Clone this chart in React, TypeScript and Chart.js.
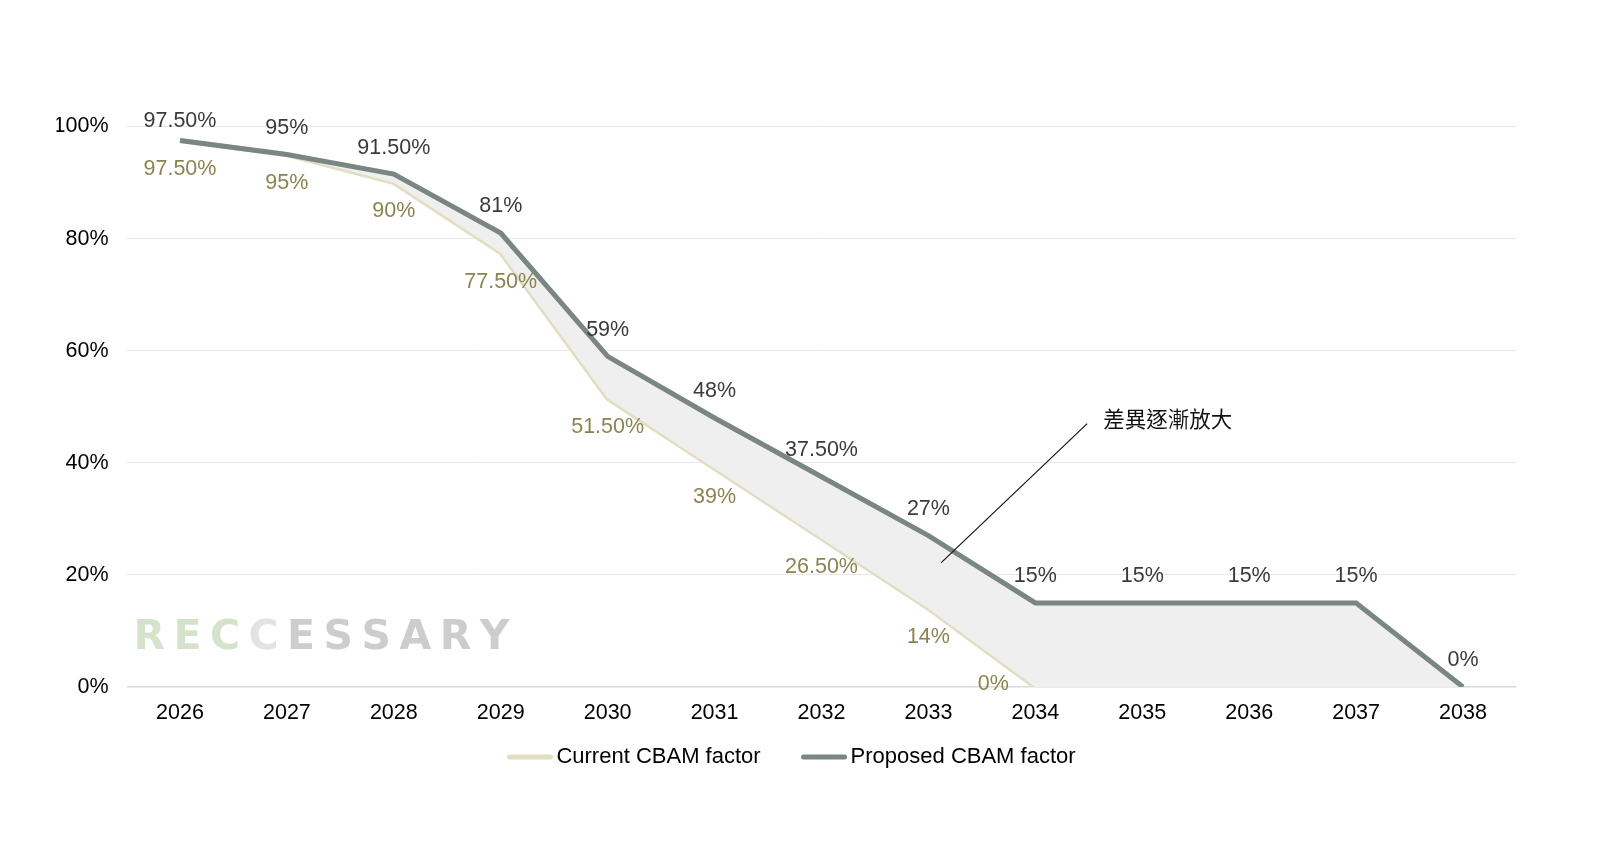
import { useEffect, useRef } from 'react';
import { Chart, registerables } from 'chart.js';

Chart.register(...registerables);

// ---------- data ----------
const years = ['2026', '2027', '2028', '2029', '2030', '2031', '2032', '2033', '2034', '2035', '2036', '2037', '2038'];
const currentFactor: (number | null)[] = [97.5, 95, 90, 77.5, 51.5, 39, 26.5, 14, 0, null, null, null, null];
const proposedFactor: number[] = [97.5, 95, 91.5, 81, 59, 48, 37.5, 27, 15, 15, 15, 15, 0];
const seriesNames = ['Current CBAM factor', 'Proposed CBAM factor'];
const annotationText = '差異逐漸放大';
const watermarkLetters = ['R', 'E', 'C', 'C', 'E', 'S', 'S', 'A', 'R', 'Y'];

// baseline for the shaded gap (current factor, then 0 once it reaches zero)
const fillBaseline = currentFactor.map((v) => (v === null ? 0 : v));

// ---------- styles ----------
const FONT = '"Liberation Sans", Arial, Helvetica, sans-serif';
const CURRENT_COLOR = '#e2dec4';
const PROPOSED_COLOR = '#7a8681';
const CURRENT_LABEL = '#8a8450';
const PROPOSED_LABEL = '#3a3a3a';
const GAP_FILL = '#efefef';

const fmt = (v: number) => (Number.isInteger(v) ? `${v}%` : `${v.toFixed(2)}%`);

const labelsPlugin = {
  id: 'pointLabels',
  afterDatasetsDraw(chart: any) {
    const ctx = chart.ctx;
    const top = chart.chartArea.top;
    ctx.save();
    ctx.font = `21.5px ${FONT}`;
    ctx.textBaseline = 'middle';
    ctx.textAlign = 'center';
    const m0 = chart.getDatasetMeta(0);
    m0.data.forEach((pt: any, i: number) => {
      const v = currentFactor[i];
      if (v === null || v === undefined) return;
      ctx.fillStyle = CURRENT_LABEL;
      if (v === 0) {
        ctx.fillText(fmt(v), pt.x - 42, pt.y - 3);
      } else {
        ctx.fillText(fmt(v), pt.x, pt.y + 29);
      }
    });
    const m1 = chart.getDatasetMeta(1);
    m1.data.forEach((pt: any, i: number) => {
      const v = proposedFactor[i];
      ctx.fillStyle = PROPOSED_LABEL;
      const y = Math.max(pt.y - 26.5, top - 5);
      ctx.fillText(fmt(v), pt.x, y);
    });
    ctx.restore();
  },
};

const annotationPlugin = {
  id: 'gapAnnotation',
  afterDraw(chart: any) {
    const { ctx, scales } = chart;
    const xs = scales.x;
    const ys = scales.y;
    ctx.save();
    ctx.strokeStyle = '#111';
    ctx.lineWidth = 1.2;
    ctx.beginPath();
    ctx.moveTo(xs.getPixelForValue(8.485), ys.getPixelForValue(47.0));
    ctx.lineTo(xs.getPixelForValue(7.12), ys.getPixelForValue(22.2));
    ctx.stroke();
    ctx.fillStyle = '#111';
    ctx.font = `21.5px "Noto Sans CJK TC", "Noto Sans CJK SC", ${FONT}`;
    ctx.textAlign = 'left';
    ctx.textBaseline = 'middle';
    ctx.fillText(annotationText, xs.getPixelForValue(8.634), ys.getPixelForValue(47.9));
    ctx.restore();
  },
};

const watermarkPlugin = {
  id: 'watermark',
  afterDraw(chart: any) {
    const ctx = chart.ctx;
    const colors = ['#d6e3cb', '#d6e3cb', '#d6e3cb', '#e3e3e3', '#cdcdcd', '#cdcdcd', '#cdcdcd', '#cdcdcd', '#cdcdcd', '#cdcdcd'];
    ctx.save();
    ctx.font = `bold 41px "DejaVu Sans", ${FONT}`;
    ctx.textBaseline = 'alphabetic';
    ctx.textAlign = 'left';
    const startX = chart.chartArea.left + 7;
    const totalW = 376;
    const widths = watermarkLetters.map((ch) => ctx.measureText(ch).width);
    const sum = widths.reduce((a, b) => a + b, 0);
    const spacing = (totalW - sum) / (watermarkLetters.length - 1);
    let x = startX;
    const y = chart.chartArea.bottom - 38;
    watermarkLetters.forEach((ch, i) => {
      ctx.fillStyle = colors[i];
      ctx.fillText(ch, x, y);
      x += widths[i] + spacing;
    });
    ctx.restore();
  },
};

const legendPlugin = {
  id: 'customLegend',
  afterDraw(chart: any) {
    const ctx = chart.ctx;
    const colors = [CURRENT_COLOR, PROPOSED_COLOR];
    ctx.save();
    ctx.font = `22px ${FONT}`;
    ctx.textBaseline = 'middle';
    ctx.textAlign = 'left';
    const boxW = 45;
    const boxGap = 4;
    const itemGap = 41;
    const widths = seriesNames.map((n) => boxW + boxGap + ctx.measureText(n).width);
    const total = widths.reduce((a, b) => a + b, 0) + itemGap * (seriesNames.length - 1);
    let x = 791.5 - total / 2;
    const cy = chart.chartArea.bottom + 70;
    seriesNames.forEach((name, i) => {
      ctx.strokeStyle = colors[i];
      ctx.lineWidth = 5;
      ctx.lineCap = 'round';
      ctx.beginPath();
      ctx.moveTo(x + 2, cy);
      ctx.lineTo(x + boxW - 2, cy);
      ctx.stroke();
      ctx.fillStyle = '#000';
      ctx.fillText(name, x + boxW + boxGap, cy);
      x += widths[i] + itemGap;
    });
    ctx.restore();
  },
};

export default function App() {
  const canvasRef = useRef<HTMLCanvasElement | null>(null);

  useEffect(() => {
    document.body.style.margin = '0';
    const canvas = canvasRef.current;
    if (!canvas) return;
    const chart = new Chart(canvas, {
      type: 'line',
      data: {
        labels: years,
        datasets: [
          {
            label: seriesNames[0],
            data: currentFactor,
            borderColor: CURRENT_COLOR,
            backgroundColor: CURRENT_COLOR,
            borderWidth: 5,
            pointRadius: 0,
            pointHoverRadius: 0,
            tension: 0,
            fill: false,
            order: 1,
          },
          {
            label: seriesNames[1],
            data: proposedFactor,
            borderColor: PROPOSED_COLOR,
            backgroundColor: GAP_FILL,
            borderWidth: 5,
            pointRadius: 0,
            pointHoverRadius: 0,
            tension: 0,
            fill: { target: 2 },
            order: 0,
          },
          {
            label: 'baseline',
            data: fillBaseline,
            borderColor: 'rgba(0,0,0,0)',
            backgroundColor: 'rgba(0,0,0,0)',
            borderWidth: 0,
            pointRadius: 0,
            pointHoverRadius: 0,
            tension: 0,
            fill: false,
            order: 2,
          },
        ],
      },
      options: {
        animation: false,
        responsive: true,
        maintainAspectRatio: false,
        layout: { padding: { left: 56.5, right: 83.5, top: 126.5, bottom: 120 } },
        plugins: {
          legend: { display: false },
          tooltip: { enabled: false },
        },
        scales: {
          x: {
            type: 'category',
            offset: true,
            grid: { display: false, drawTicks: false },
            border: { display: false },
            ticks: {
              color: '#000',
              font: { family: FONT, size: 21.5 },
              padding: 13.5,
              maxRotation: 0,
              autoSkip: false,
            },
            afterFit: (s: any) => {
              s.height = 40;
            },
          },
          y: {
            min: 0,
            max: 100,
            border: { display: false },
            grid: {
              drawTicks: false,
              color: (c: any) => (c.tick && c.tick.value === 0 ? '#d9d9d9' : '#e8e8e8'),
              lineWidth: (c: any) => (c.tick && c.tick.value === 0 ? 1.5 : 1),
            },
            ticks: {
              stepSize: 20,
              color: '#000',
              font: { family: FONT, size: 21.5 },
              padding: 18,
              callback: (v: any) => `${v}%`,
            },
            afterFit: (s: any) => {
              s.width = 70;
            },
          },
        },
      } as any,
      plugins: [labelsPlugin, annotationPlugin, watermarkPlugin, legendPlugin],
    });
    return () => chart.destroy();
  }, []);

  return (
    <div style={{ width: '1600px', height: '847px', position: 'relative', background: '#fff' }}>
      <canvas ref={canvasRef} />
    </div>
  );
}
